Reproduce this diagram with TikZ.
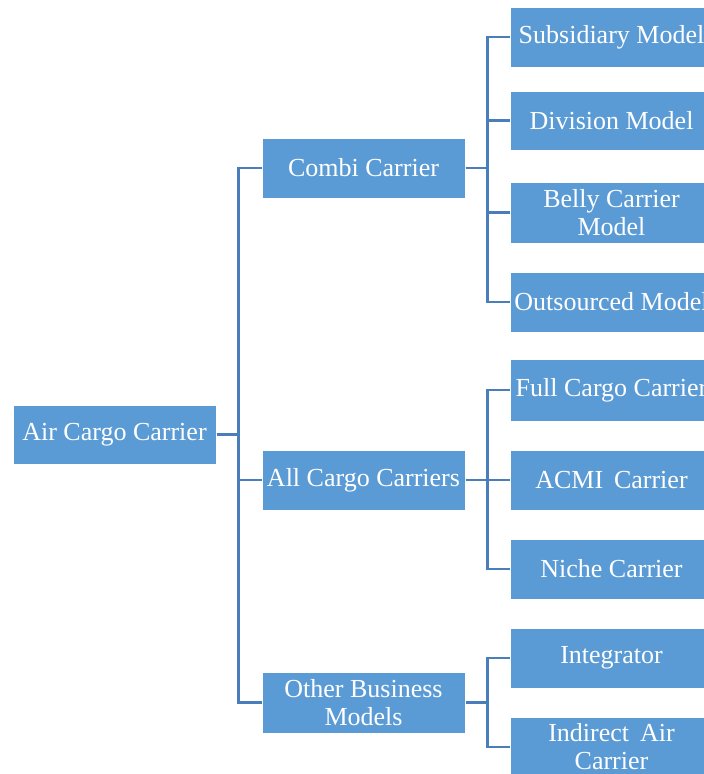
\documentclass[tikz,border=0pt]{standalone}
\usepackage{fontspec}
\setmainfont{Liberation Serif}
\definecolor{boxblue}{RGB}{91,155,213}
\definecolor{linkblue}{RGB}{74,126,187}
\tikzset{
  cbox/.style={rectangle, fill=boxblue, draw=white, line width=1pt,
    minimum width=203pt, minimum height=60pt, inner sep=2pt,
    text=white, align=center,
    font=\fontsize{26}{28}\selectfont},
  link/.style={draw=linkblue, line width=2.5pt}
}
\begin{document}
\begin{tikzpicture}[x=1pt, y=-1pt]
  \useasboundingbox (0,0) rectangle (704,774);
  \clip (0,0) rectangle (704,774);
  \fill[white] (0,0) rectangle (704,774);

  % connectors are drawn first so the boxes sit on top of them
  \coordinate (rootE) at (216,434.5);
  \coordinate (combiE) at (465,168);
  \coordinate (allE) at (465,480);
  \coordinate (otherE) at (465,702.5);

  % root
  \node[cbox, minimum height=59pt] (root) at (114.5,434.5) {Air Cargo Carrier};

  % second level
  \node[cbox] (combi) at (363.5,168) {Combi Carrier};
  \node[cbox] (all) at (363.5,480) {All Cargo Carriers};
  \node[cbox, minimum height=61pt] (other) at (363.5,702.5) {Other Business\\Models};

  % third level
  \node[cbox] (sub) at (611.5,37) {Subsidiary Model};
  \node[cbox, minimum height=59pt] (div) at (611.5,120.5) {Division Model};
  \node[cbox, minimum height=61pt] (belly) at (611.5,212.5) {Belly Carrier\\Model};
  \node[cbox] (out) at (611.5,302) {Outsourced Model};
  \node[cbox, minimum height=62pt] (full) at (611.5,390) {Full Cargo Carrier};
  \node[cbox] (acmi) at (611.5,480) {ACMI\, Carrier};
  \node[cbox] (niche) at (611.5,569) {Niche Carrier};
  \node[cbox] (integ) at (611.5,658) {Integrator};
  \node[cbox] (indir) at (611.5,747) {Indirect\, Air\\Carrier};

  % tree connectors
  \begin{scope}[on background layer/.style={}]
    \foreach \child in {combi, all, other}
      \draw[link] (root.east) -- ++(22,0) |- (\child.west);
    \foreach \child in {sub, div, belly, out}
      \draw[link] (combi.east) -- ++(22,0) |- (\child.west);
    \foreach \child in {full, acmi, niche}
      \draw[link] (all.east) -- ++(22,0) |- (\child.west);
    \foreach \child in {integ, indir}
      \draw[link] (other.east) -- ++(22,0) |- (\child.west);
  \end{scope}
\end{tikzpicture}
\end{document}
